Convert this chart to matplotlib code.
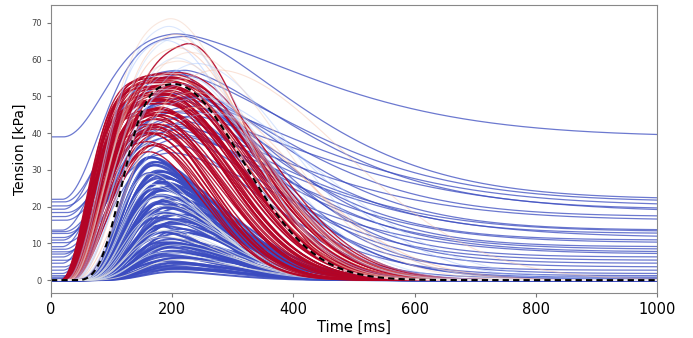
"""
Plot of the simulated tension transients of the whole population of models.
Each curve is described by a handful of parameters read off the original figure:
baseline, amplitude, activation onset, rise time, start of relaxation and relaxation time.
"""
import numpy as np
import matplotlib
matplotlib.use('Agg')
import matplotlib.pyplot as plt

# blue curves with a residual (diastolic) tension
base_level = [39.0, 22.0, 21.3, 20.2, 19.3, 18.4, 17.3, 16.3, 13.6, 13.2, 12.7, 11.6, 10.9, 10.2,
              9.1, 8.4, 7.7, 7.1, 6.3, 5.4, 4.6, 3.6, 2.7, 1.8, 1.2, 0.8, 0.5, 0.3]
base_amp = [28.5, 44.5, 35, 30, 38, 28, 33, 26, 40, 30, 35, 28, 38, 30,
            42, 33, 36, 28, 40, 34, 45, 38, 42, 48, 36, 50, 44, 57]
base_on = [20, 18, 22, 24, 20, 26, 22, 24, 18, 22, 26, 20, 19, 24,
           18, 22, 26, 20, 19, 24, 18, 21, 19, 18, 24, 17, 21, 15]
base_tau = [90, 85, 88, 92, 86, 90, 94, 88, 84, 90, 95, 88, 86, 92,
            84, 90, 95, 86, 88, 94, 84, 88, 86, 84, 92, 82, 88, 80]
base_tc = [200, 220, 210, 200, 220, 190, 230, 200, 215, 195, 230, 205, 220, 210,
           230, 205, 220, 195, 235, 210, 245, 220, 230, 235, 210, 245, 225, 205]
base_s = [330, 280, 300, 320, 280, 350, 260, 300, 250, 280, 240, 300, 230, 260,
          220, 250, 240, 270, 210, 230, 200, 220, 190, 200, 210, 180, 170, 200]

# blue curves with small twitches (no residual tension)
low_amp = [35, 34, 33, 32.5, 31.5, 31, 30, 29.5, 29, 28, 27.5, 27, 26, 25.5, 25, 24, 23.5, 23, 22, 21.5,
           21, 20, 19.5, 19, 18, 17.5, 17, 16, 15.5, 15, 14, 13.5, 13, 12, 11.5, 11, 10, 9.5, 9, 8,
           7.5, 7, 6, 5.5, 5, 4, 3.5, 3, 33.5, 30.5, 28.5, 26.5, 24.5, 22.5, 20.5, 18.5, 16.5, 14.5,
           12.5, 10.5, 8.5, 6.5, 4.5, 32, 29, 26, 23, 20, 17, 14, 11, 8, 5, 34.5, 27.8, 21.8, 15.8,
           9.8, 3.8, 2.5]
low_on = [38, 42, 40, 44, 39, 47, 42, 45, 40, 48, 43, 46, 41, 49, 44, 47, 42, 50, 45, 48,
          43, 52, 46, 49, 44, 53, 47, 50, 45, 54, 48, 51, 46, 55, 49, 52, 47, 57, 50, 53,
          48, 58, 51, 54, 49, 60, 52, 56, 39, 42, 44, 46, 48, 50, 52, 54, 56, 58, 60, 62,
          64, 66, 68, 38, 41, 44, 47, 50, 53, 56, 59, 62, 65, 36, 43, 49, 55, 61, 67, 70]
low_tau = [80, 76, 85, 78, 90, 75, 84, 80, 95, 77, 88, 82, 94, 78, 86, 84, 98, 76, 90, 82,
           96, 80, 88, 86, 100, 78, 92, 84, 98, 82, 90, 88, 102, 80, 94, 86, 100, 84, 92, 90,
           104, 82, 96, 88, 102, 86, 94, 92, 84, 88, 92, 96, 80, 84, 88, 92, 96, 100, 104, 86,
           90, 94, 98, 82, 86, 90, 94, 98, 102, 84, 88, 92, 96, 80, 91, 101, 86, 96, 105, 92]
low_tc = [140, 155, 145, 165, 150, 135, 170, 160, 145, 180, 155, 175, 150, 165, 190, 160, 145, 175, 200, 155,
          170, 185, 150, 165, 205, 160, 180, 145, 195, 170, 155, 185, 210, 165, 175, 150, 190, 160, 200, 170,
          145, 180, 215, 155, 185, 165, 175, 195, 150, 160, 170, 180, 190, 155, 165, 175, 185, 195, 145, 160,
          170, 180, 190, 155, 165, 175, 185, 195, 205, 150, 160, 170, 180, 145, 160, 175, 190, 205, 165, 175]
low_s = [160, 150, 170, 155, 165, 145, 175, 160, 180, 150, 170, 165, 185, 155, 160, 175, 190, 150, 165, 180,
         170, 155, 195, 160, 175, 165, 185, 150, 170, 180, 160, 190, 175, 155, 200, 165, 180, 170, 160, 185,
         175, 150, 170, 190, 165, 180, 155, 175, 155, 165, 175, 185, 145, 160, 170, 180, 190, 150, 165, 175,
         185, 160, 170, 150, 160, 170, 180, 190, 155, 165, 175, 185, 140, 155, 170, 185, 160, 175, 190, 145]

# pale streaks inside the blue region
pale_amp = [8, 12, 15, 18, 21, 24, 27, 30, 10, 14, 19, 23, 26, 6, 17]
pale_on = [52, 48, 54, 44, 50, 46, 42, 40, 56, 48, 47, 45, 43, 60, 52]
pale_tau = [90, 85, 95, 82, 90, 84, 80, 78, 95, 88, 86, 82, 80, 100, 92]
pale_tc = [165, 175, 155, 185, 170, 160, 150, 145, 180, 165, 175, 160, 155, 185, 170]
pale_s = [165, 155, 175, 150, 165, 160, 155, 150, 170, 160, 165, 155, 152, 175, 162]
pale_c = [0.45, 0.5, 0.42, 0.48, 0.5, 0.44, 0.47, 0.5, 0.46, 0.5, 0.43, 0.49, 0.45, 0.5, 0.47]

# red curves (accepted models)
red_amp = [37, 38, 39, 40, 41, 42, 42.5, 43, 44, 44.5, 45, 45.5, 46, 46.5, 47, 47.5, 48, 48.5, 49, 49.5,
           50, 50.5, 51, 51.5, 52, 52.5, 53, 53.5, 54, 54.5, 55, 55.5, 56, 56.5, 65.5, 38.5, 40.5, 43.5, 45.2,
           47.2, 49.2, 51.2, 53.2, 55.2, 41.5, 44.2, 46.8, 48.8, 50.8, 52.8, 54.8, 39.5, 42.2, 45.8, 48.2, 51.8,
           53.8, 46.2, 49.8, 52.2]
red_on = [30, 20, 32, 17, 24, 28, 18, 26, 22, 34, 17, 25, 30, 19, 23, 27, 16, 31, 21, 24,
          28, 18, 26, 22, 32, 17, 25, 29, 20, 23, 18, 27, 21, 24, 22, 34, 26, 30, 22, 28,
          19, 25, 23, 20, 31, 24, 27, 21, 29, 18, 22, 33, 26, 23, 20, 25, 19, 28, 24, 21]
red_tau = [72, 62, 76, 56, 66, 70, 58, 68, 64, 78, 55, 68, 74, 60, 66, 70, 56, 76, 62, 66,
           70, 58, 68, 64, 78, 56, 66, 70, 60, 64, 58, 70, 62, 66, 100, 72, 68, 74, 64, 70,
           60, 66, 64, 60, 76, 66, 70, 62, 72, 58, 62, 80, 68, 64, 60, 66, 58, 70, 66, 62]
red_tc = [140, 155, 145, 160, 150, 160, 170, 155, 165, 150, 175, 160, 160, 180, 170, 165, 185, 165, 180, 175,
          170, 190, 180, 185, 175, 195, 185, 180, 200, 190, 205, 195, 200, 210, 220, 150, 165, 165, 175, 170,
          185, 180, 190, 195, 160, 170, 175, 185, 180, 195, 205, 155, 165, 180, 185, 190, 200, 175, 185, 195]
red_s = [150, 140, 160, 145, 155, 150, 165, 160, 170, 150, 175, 165, 160, 180, 170, 175, 185, 170, 180, 185,
         175, 190, 185, 195, 180, 200, 190, 185, 200, 195, 205, 200, 205, 210, 150, 140, 165, 160, 175, 170,
         185, 180, 195, 200, 150, 170, 175, 190, 185, 200, 210, 145, 165, 180, 190, 195, 205, 175, 185, 200]

# light curves (intermediate colour values)
light_amp = [72, 70, 68, 66, 64, 62, 60, 58, 57, 56, 55, 54, 60, 63, 67, 52, 50, 48, 46, 58]
light_on = [25, 28, 30, 24, 30, 34, 28, 32, 26, 36, 30, 34, 40, 36, 30, 38, 36, 40, 42, 46]
light_tau = [80, 78, 84, 76, 82, 86, 80, 84, 78, 90, 82, 86, 96, 92, 84, 94, 92, 98, 102, 106]
light_tc = [190, 185, 195, 180, 200, 190, 205, 195, 185, 210, 200, 205, 225, 215, 190, 220, 235, 225, 245, 255]
light_s = [170, 180, 175, 190, 185, 200, 195, 210, 180, 220, 205, 215, 240, 230, 200, 250, 280, 260, 300, 320]
light_c = [0.6, 0.35, 0.65, 0.3, 0.7, 0.38, 0.62, 0.32, 0.68, 0.36, 0.72, 0.3, 0.33, 0.6, 0.4, 0.66, 0.28,
           0.7, 0.35, 0.64]

# reference (experimental) trace, dashed
ref_amp, ref_on, ref_tau, ref_tc, ref_s = 53.5, 40, 88, 200, 165


def twitch(t, base, amp, on, tau, tc, s, k=3.0, p=2.0):
    """
    Tension transient: an activation (shape k) followed by a relaxation (shape p) back to the baseline.
    """
    rise = 1 - np.exp(-(np.clip(t - on, 0, None) / tau) ** k)
    fall = np.exp(-(np.clip(t - tc, 0, None) / s) ** p)
    return base + amp * rise * fall


def main():
    t = np.linspace(0, 1000, 1001)
    cmap = plt.get_cmap('coolwarm')

    fig = plt.figure(figsize=(6.93, 3.38), dpi=100)
    ax = fig.add_axes([51 / 693, 45 / 338, 606 / 693, 288 / 338])

    blue = cmap(0.0)
    for i in range(len(low_amp)):
        ax.plot(t, twitch(t, 0, low_amp[i], low_on[i], low_tau[i], low_tc[i], low_s[i]),
                color=blue, lw=1.4, alpha=0.9)
    for i in range(len(pale_amp)):
        ax.plot(t, twitch(t, 0, pale_amp[i], pale_on[i], pale_tau[i], pale_tc[i], pale_s[i]),
                color=cmap(pale_c[i]), lw=0.7, alpha=0.8)
    for i in range(len(base_level)):
        ax.plot(t, twitch(t, base_level[i], base_amp[i], base_on[i], base_tau[i], base_tc[i], base_s[i],
                          k=2.0, p=1.5),
                color=blue, lw=0.9, alpha=0.75)
    for i in range(len(red_amp)):
        ax.plot(t, twitch(t, 0, red_amp[i], red_on[i], red_tau[i], red_tc[i], red_s[i], k=2.0),
                color=cmap(1.0), lw=1.0, alpha=0.9)
    for i in range(len(light_amp)):
        ax.plot(t, twitch(t, 0, light_amp[i], light_on[i], light_tau[i], light_tc[i], light_s[i], k=2.0),
                color=cmap(light_c[i]), lw=0.8, alpha=0.45)

    ref = twitch(t, 0, ref_amp, ref_on, ref_tau, ref_tc, ref_s)
    ax.plot(t, ref, color='white', lw=1.2, alpha=0.7)
    ax.plot(t, ref, color='black', lw=1.5, ls=(0, (3, 2)))

    ax.set_xlim(0, 1000)
    ax.set_ylim(-3.5, 74.9)
    ax.set_xticks([0, 200, 400, 600, 800, 1000])
    ax.set_yticks([0, 10, 20, 30, 40, 50, 60, 70])
    ax.tick_params(axis='x', labelsize=10.5, length=3, color='#777777')
    ax.tick_params(axis='y', labelsize=6, length=3, color='#777777', labelcolor='#444444')
    for spine in ax.spines.values():
        spine.set_color('#888888')
    ax.set_xlabel('Time [ms]', fontsize=10.5, labelpad=2)
    ax.set_ylabel('Tension [kPa]', fontsize=10, labelpad=3)

    fig.savefig('out.png', dpi=100)
    plt.close(fig)


if __name__ == '__main__':
    main()
